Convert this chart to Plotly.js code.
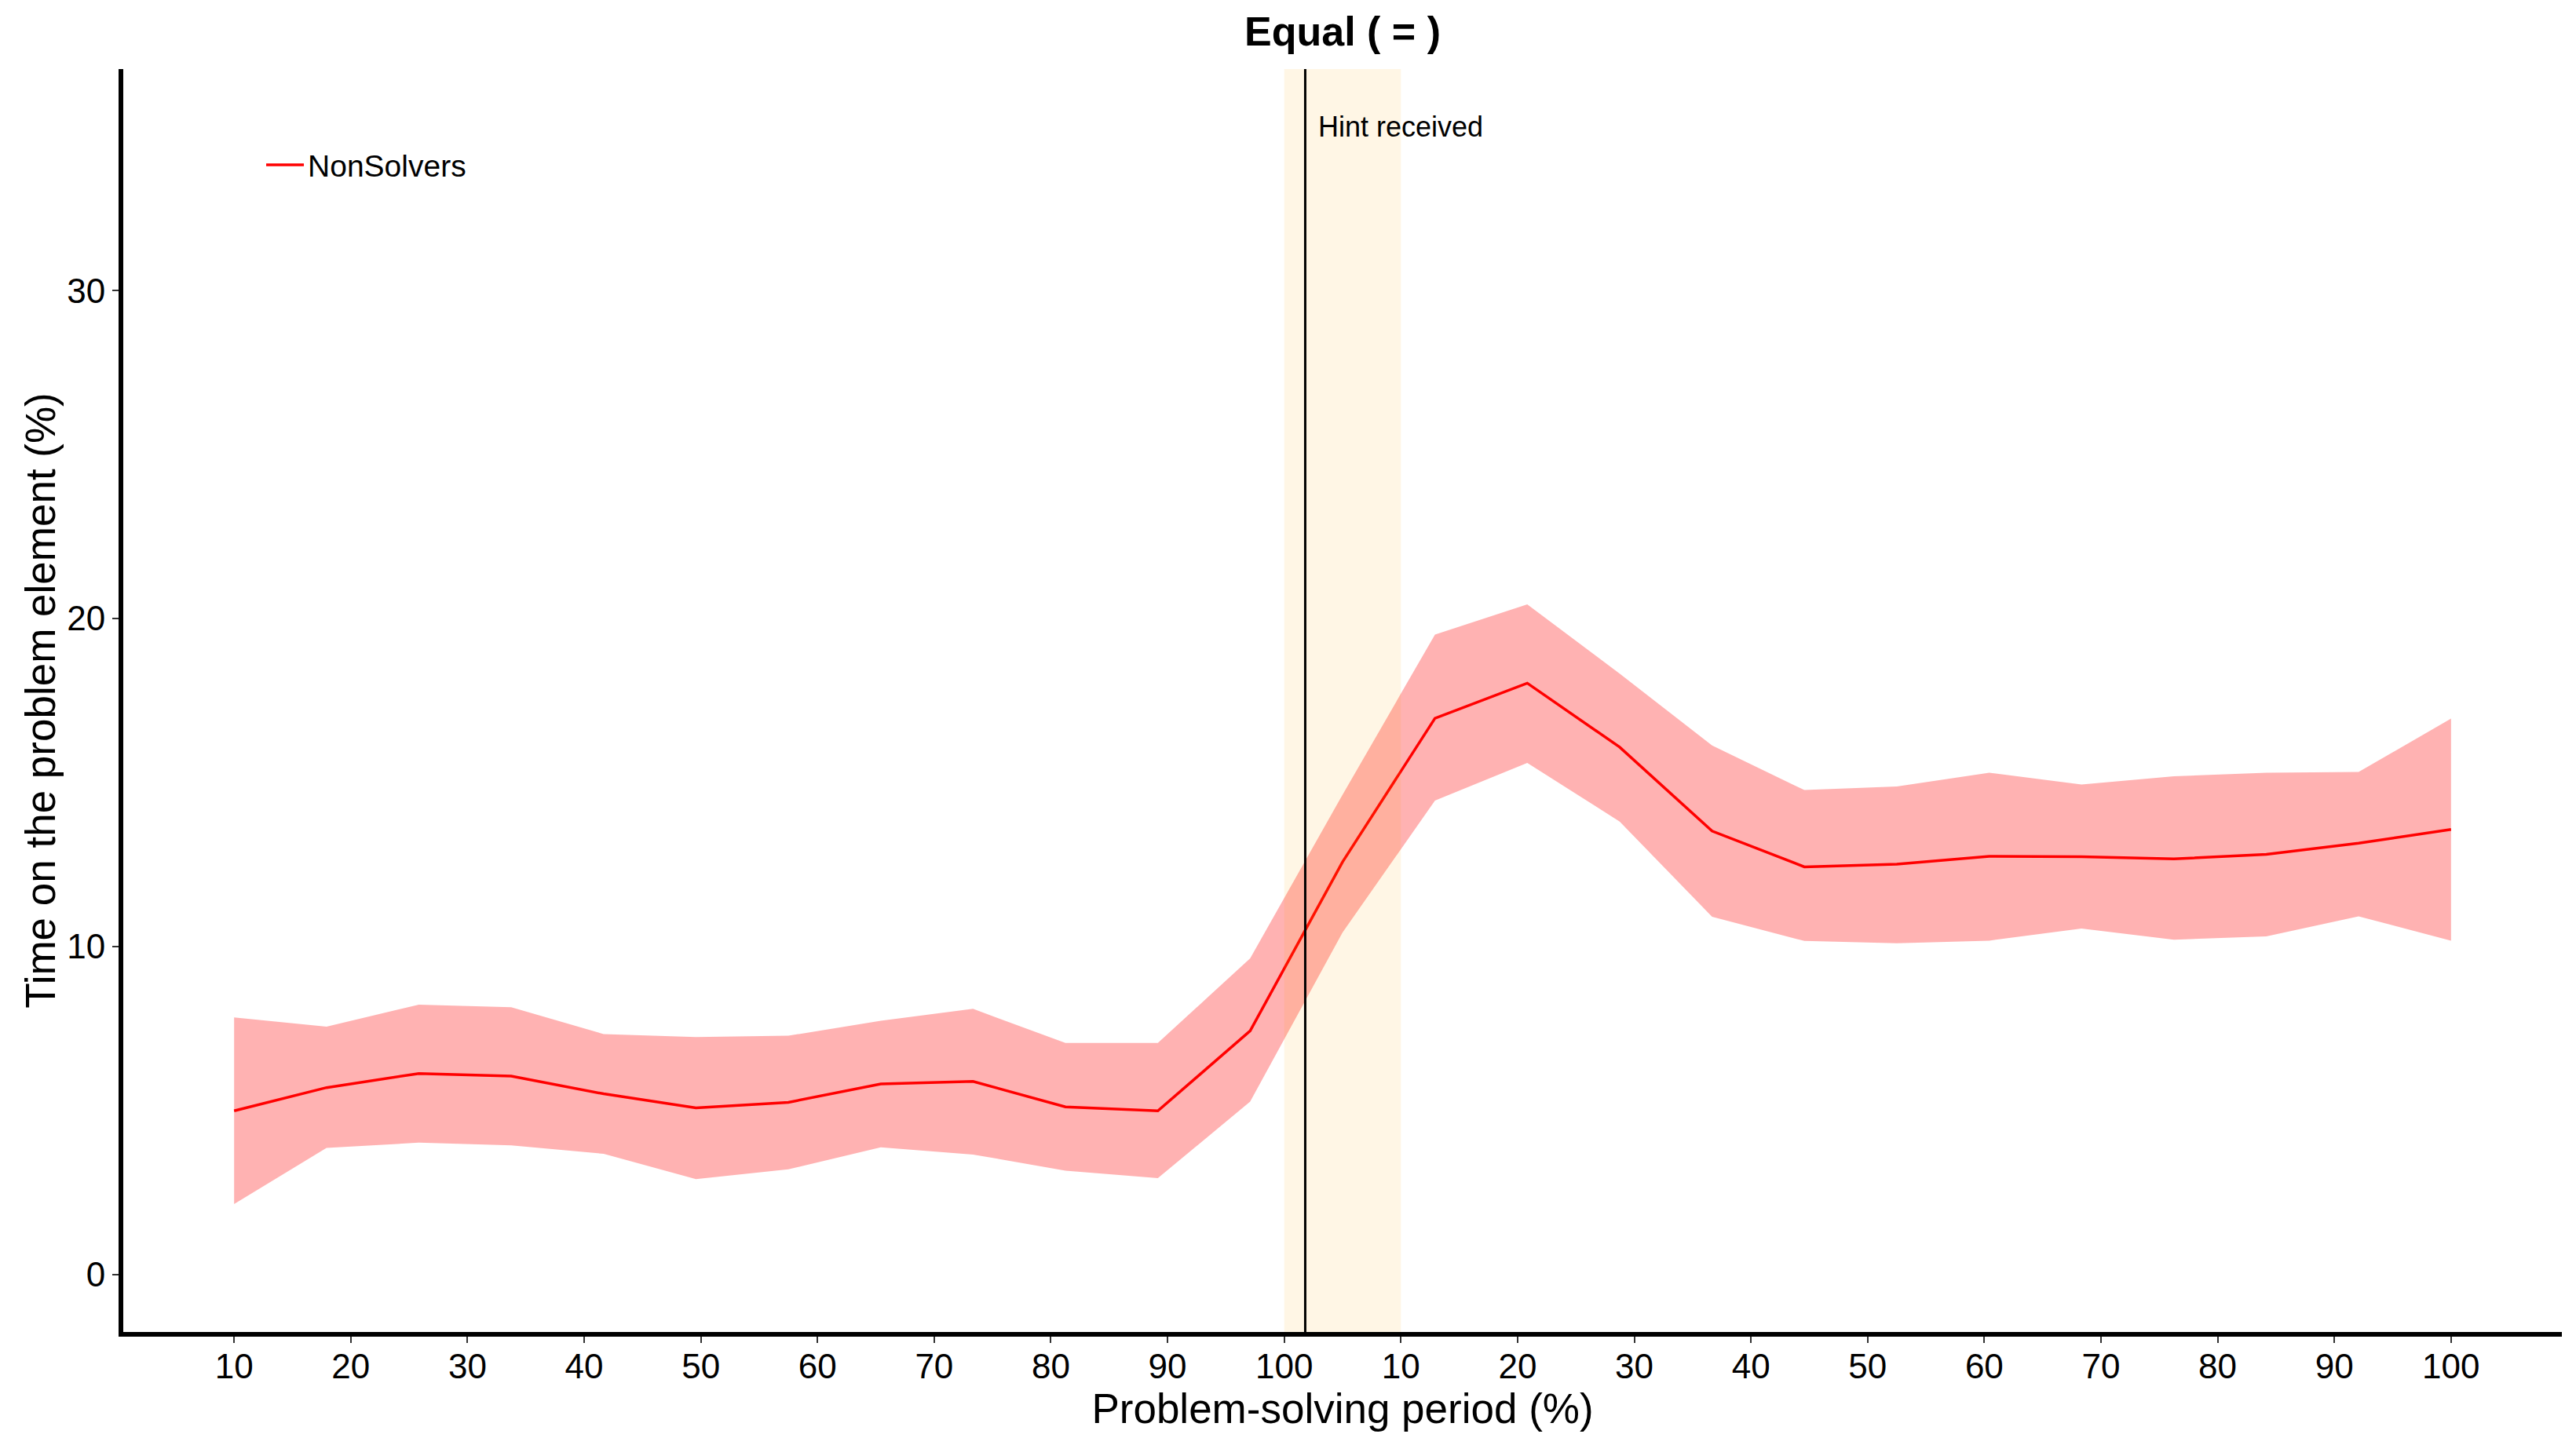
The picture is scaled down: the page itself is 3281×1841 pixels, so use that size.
<!DOCTYPE html>
<html>
<head>
<meta charset="utf-8">
<script src="https://cdn.plot.ly/plotly-3.0.1.min.js"></script>
<style>
  html, body { margin: 0; padding: 0; background: #ffffff; }
  #chart { width: 3281px; height: 1841px; }
</style>
</head>
<body>
<div id="chart"></div>
<script>
// Problem-solving period positions (0-100 before hint, 100-200 after hint)
const periodX = [10, 17.92, 25.83, 33.75, 41.67, 49.58, 57.5, 65.42, 73.33, 81.25, 89.17, 97.08,
                 105, 112.92, 120.83, 128.75, 136.67, 144.58, 152.5, 160.42, 168.33, 176.25, 184.17, 192.08, 200];
// NonSolvers: mean time on the problem element (%)
const nonSolversMean = [4.99, 5.70, 6.13, 6.05, 5.51, 5.08, 5.25, 5.81, 5.89, 5.11, 4.99, 7.43,
                        12.58, 16.96, 18.03, 16.08, 13.52, 12.43, 12.51, 12.75, 12.74, 12.67, 12.81, 13.15, 13.57];
// Confidence band
const nonSolversUpper = [7.84, 7.56, 8.23, 8.15, 7.33, 7.24, 7.28, 7.74, 8.10, 7.06, 7.06, 9.64,
                         14.63, 19.51, 20.43, 18.32, 16.13, 14.77, 14.88, 15.30, 14.94, 15.19, 15.30, 15.32, 16.95];
const nonSolversLower = [2.15, 3.86, 4.02, 3.94, 3.68, 2.91, 3.21, 3.88, 3.66, 3.17, 2.94, 5.27,
                         10.43, 14.45, 15.60, 13.81, 10.91, 10.17, 10.10, 10.18, 10.55, 10.21, 10.31, 10.92, 10.18];
// Axis ticks
const xTickVals = [10, 20, 30, 40, 50, 60, 70, 80, 90, 100, 110, 120, 130, 140, 150, 160, 170, 180, 190, 200];
const xTickText = ["10", "20", "30", "40", "50", "60", "70", "80", "90", "100",
                   "10", "20", "30", "40", "50", "60", "70", "80", "90", "100"];
const yTickVals = [0, 10, 20, 30];
// Hint window
const hintWindow = [100, 110];
const hintLineX = 101.8;
const hintLabelX = 102.8;
const hintLabelY = 35;

const FONT = "Liberation Sans, Arial, Helvetica, sans-serif";

const traces = [
  {
    x: periodX, y: nonSolversLower, type: "scatter", mode: "lines",
    line: { width: 0, color: "rgba(255,0,0,0)" },
    showlegend: false, hoverinfo: "skip"
  },
  {
    x: periodX, y: nonSolversUpper, type: "scatter", mode: "lines",
    line: { width: 0, color: "rgba(255,0,0,0)" },
    fill: "tonexty", fillcolor: "rgba(255,0,0,0.3)",
    showlegend: false, hoverinfo: "skip"
  },
  {
    x: periodX, y: nonSolversMean, type: "scatter", mode: "lines",
    name: "NonSolvers",
    line: { width: 3.5, color: "#ff0000" }
  }
];

const layout = {
  width: 3281, height: 1841,
  margin: { l: 157, r: 18, t: 88, b: 144 },
  paper_bgcolor: "#ffffff", plot_bgcolor: "#ffffff",
  font: { family: FONT, color: "#000000" },
  title: {
    text: "<b>Equal ( = )</b>",
    font: { family: FONT, size: 52, color: "#000000" },
    x: 0.5, xref: "paper", xanchor: "center",
    y: 1 - 40 / 1841, yref: "container", yanchor: "middle"
  },
  showlegend: true,
  legend: {
    x: 0.057, y: 0.944, xanchor: "left", yanchor: "top",
    bgcolor: "rgba(255,255,255,0)", borderwidth: 0,
    itemwidth: 48,
    font: { family: FONT, size: 39, color: "#000000" }
  },
  xaxis: {
    range: [0.5, 209.5], autorange: false,
    tickmode: "array", tickvals: xTickVals, ticktext: xTickText,
    ticks: "outside", ticklen: 8, tickwidth: 2, tickcolor: "#333333",
    ticklabelstandoff: -8,
    tickfont: { family: FONT, size: 44, color: "#000000" },
    showline: true, linecolor: "#000000", linewidth: 6,
    showgrid: false, zeroline: false,
    title: { text: "Problem-solving period (%)", font: { family: FONT, size: 53, color: "#000000" }, standoff: 0 }
  },
  yaxis: {
    range: [-1.75, 36.75], autorange: false,
    tickmode: "array", tickvals: yTickVals,
    ticks: "outside", ticklen: 8, tickwidth: 2, tickcolor: "#333333",
    tickfont: { family: FONT, size: 44, color: "#000000" },
    showline: true, linecolor: "#000000", linewidth: 6,
    showgrid: false, zeroline: false,
    title: { text: "Time on the problem element (%)", font: { family: FONT, size: 53, color: "#000000" }, standoff: 0 }
  },
  shapes: [
    {
      type: "rect", xref: "x", yref: "paper",
      x0: hintWindow[0], x1: hintWindow[1], y0: 0, y1: 1,
      fillcolor: "rgba(255,165,0,0.1)", line: { width: 0 }, layer: "above"
    },
    {
      type: "line", xref: "x", yref: "paper",
      x0: hintLineX, x1: hintLineX, y0: 0, y1: 1,
      line: { color: "#000000", width: 3 }, layer: "above"
    }
  ],
  annotations: [
    {
      x: hintLabelX, y: hintLabelY, xref: "x", yref: "y",
      text: "Hint received", showarrow: false,
      xanchor: "left", yanchor: "middle",
      font: { family: FONT, size: 36, color: "#000000" }
    }
  ]
};

Plotly.newPlot("chart", traces, layout, { staticPlot: true, displayModeBar: false });
</script>
</body>
</html>
